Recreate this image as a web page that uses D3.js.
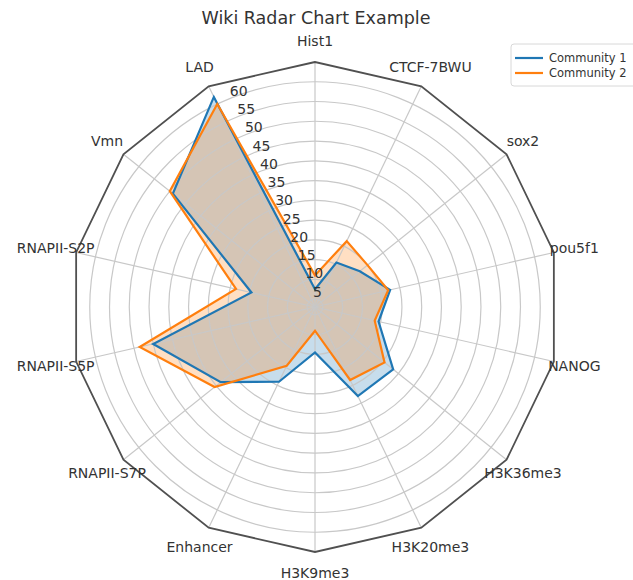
<!DOCTYPE html>
<html>
<head>
<meta charset="utf-8">
<script src="https://cdn.jsdelivr.net/npm/d3@7"></script>
<style>
  html, body { margin: 0; padding: 0; background: #fff; }
  svg { display: block; font-family: "DejaVu Sans", sans-serif; }
</style>
</head>
<body>
<svg id="chart" width="633" height="580"></svg>
<script>
// Spokes, listed counter-clockwise starting from the top
const categories = ["Hist1", "LAD", "Vmn", "RNAPII-S2P", "RNAPII-S5P", "RNAPII-S7P",
  "Enhancer", "H3K9me3", "H3K20me3", "H3K36me3", "NANOG", "pou5f1", "sox2", "CTCF-7BWU"];

const seriesNames = ["Community 1", "Community 2"];
const community1 = [7.5, 62, 49, 19.5, 45, 33.5, 24, 14.5, 28, 28.3, 19.5, 22.5, 17.5, 15.5];
const community2 = [11, 60, 50, 23.5, 48.5, 35.5, 19.5, 9, 23.5, 25.5, 18.5, 22, 20, 21.5];

const radialTicks = [5, 10, 15, 20, 25, 30, 35, 40, 45, 50, 55, 60];
const radialDomain = [3, 65];

const colors = ["#1f77b4", "#ff7f0e"];

const svg = d3.select("#chart");
const cx = 315, cy = 307, R = 245;

const r = d3.scaleLinear().domain(radialDomain).range([0, R]);
const n = categories.length;
const angle = d3.scaleLinear().domain([0, n]).range([0, -2 * Math.PI]);
// screen position for (index, radius): angle 0 points up, positive index turns counter-clockwise
const pt = (i, rad) => [cx + rad * Math.sin(angle(i)), cy - rad * Math.cos(angle(i))];

const g = svg.append("g");

// Filled areas first
const series = [community1, community2];
const lineGen = d3.line().curve(d3.curveLinearClosed);
series.forEach((vals, s) => {
  g.append("path")
    .attr("d", lineGen(vals.map((v, i) => pt(i, r(v)))))
    .attr("fill", colors[s])
    .attr("fill-opacity", 0.25)
    .attr("stroke", "none");
});

// Circular grid
g.selectAll("circle.grid").data(radialTicks).join("circle")
  .attr("class", "grid")
  .attr("cx", cx).attr("cy", cy)
  .attr("r", d => r(d))
  .attr("fill", "none")
  .attr("stroke", "#c8c8c8")
  .attr("stroke-width", 1.2);

// Spokes
g.selectAll("line.spoke").data(categories).join("line")
  .attr("class", "spoke")
  .attr("x1", cx).attr("y1", cy)
  .attr("x2", (d, i) => pt(i, R)[0])
  .attr("y2", (d, i) => pt(i, R)[1])
  .attr("stroke", "#c8c8c8")
  .attr("stroke-width", 1.2);

// Series outlines
series.forEach((vals, s) => {
  g.append("path")
    .attr("d", lineGen(vals.map((v, i) => pt(i, r(v)))))
    .attr("fill", "none")
    .attr("stroke", colors[s])
    .attr("stroke-width", 2.2)
    .attr("stroke-linejoin", "miter");
});

// Polygon frame
g.append("path")
  .attr("d", lineGen(categories.map((c, i) => pt(i, R))))
  .attr("fill", "none")
  .attr("stroke", "#505050")
  .attr("stroke-width", 1.8);

// Radial tick labels along a ray 22.5 degrees left of vertical
const labAng = 22.5 * Math.PI / 180;
g.selectAll("text.rtick").data(radialTicks).join("text")
  .attr("class", "rtick")
  .attr("x", d => cx - r(d) * Math.sin(labAng) + 1)
  .attr("y", d => cy - r(d) * Math.cos(labAng) - 3)
  .attr("font-size", 14)
  .attr("fill", "#333")
  .text(d => d);

// Category labels
g.selectAll("text.cat").data(categories).join("text")
  .attr("class", "cat")
  .attr("x", (d, i) => pt(i, 266)[0])
  .attr("y", (d, i) => pt(i, 266)[1])
  .attr("text-anchor", "middle")
  .attr("dominant-baseline", "central")
  .attr("font-size", 14)
  .attr("fill", "#333")
  .text(d => d);

// Title
svg.append("text")
  .attr("x", 316).attr("y", 24)
  .attr("text-anchor", "middle")
  .attr("font-size", 17.5)
  .attr("fill", "#333")
  .text("Wiki Radar Chart Example");

// Legend
const lg = svg.append("g").attr("transform", "translate(511,44)");
lg.append("rect")
  .attr("x", 0).attr("y", 0).attr("width", 135).attr("height", 42).attr("rx", 3)
  .attr("fill", "#fff").attr("fill-opacity", 0.85)
  .attr("stroke", "#d8d8d8");
seriesNames.forEach((name, s) => {
  const y = 14 + s * 15;
  lg.append("line")
    .attr("x1", 4).attr("x2", 32).attr("y1", y).attr("y2", y)
    .attr("stroke", colors[s]).attr("stroke-width", 2.2);
  lg.append("text")
    .attr("x", 38).attr("y", y)
    .attr("dominant-baseline", "central")
    .attr("font-size", 11.5)
    .attr("fill", "#333")
    .text(name);
});
</script>
</body>
</html>
